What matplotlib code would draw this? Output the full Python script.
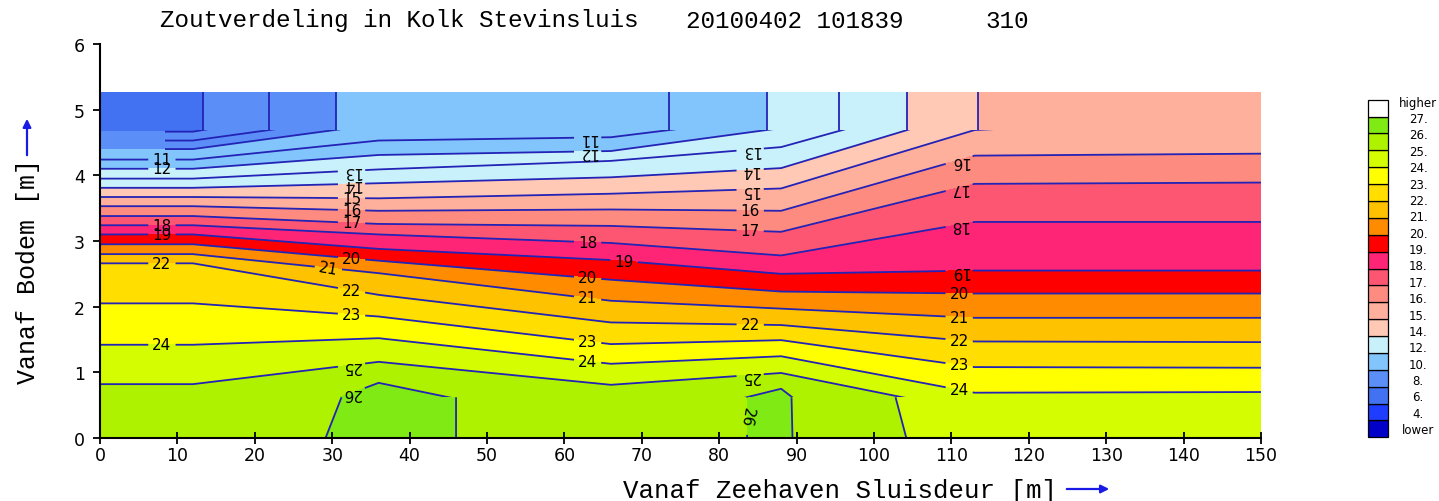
import numpy as np
import matplotlib
matplotlib.use("Agg")
import matplotlib.pyplot as plt
from matplotlib.patches import Polygon, Rectangle

plt.rcParams['font.family'] = ['DejaVu Sans']

# Measuring columns along the lock chamber [m from the sea-side gate]
col_x = [0, 12, 36, 66, 88, 113, 150]

# Salinity values whose heights are listed per column below
profile_levels = list(range(7, 28))

# Height [m above the floor] of each salinity value (7 ... 27) in each column
h_x0   = [4.80, 4.665, 4.53, 4.40, 4.24, 4.10, 3.95, 3.81, 3.67, 3.53, 3.38,
          3.24, 3.10, 2.95, 2.80, 2.66, 2.05, 1.42, 0.82, -0.22, -1.3]
h_x12  = [4.80, 4.665, 4.53, 4.40, 4.24, 4.10, 3.95, 3.81, 3.67, 3.53, 3.38,
          3.24, 3.10, 2.95, 2.80, 2.66, 2.05, 1.42, 0.82, -0.22, -1.3]
h_x36  = [5.40, 5.13, 4.92, 4.78, 4.53, 4.31, 4.09, 3.88, 3.65, 3.46, 3.26,
          3.10, 2.88, 2.70, 2.51, 2.18, 1.85, 1.52, 1.16, 0.84, -0.5]
h_x66  = [5.35, 5.15, 4.95, 4.76, 4.58, 4.37, 4.22, 3.97, 3.72, 3.48, 3.23,
          2.97, 2.71, 2.41, 2.09, 1.76, 1.43, 1.13, 0.81, 0.11, -0.8]
h_x88  = [5.80, 5.60, 5.40, 5.15, 4.90, 4.72, 4.43, 4.11, 3.80, 3.46, 3.14,
          2.78, 2.50, 2.23, 1.97, 1.72, 1.49, 1.245, 0.99, 0.75, -0.3]
h_x113 = [6.60, 6.40, 6.20, 6.00, 5.80, 5.50, 5.25, 5.00, 4.69, 4.30, 3.87,
          3.29, 2.55, 2.20, 1.83, 1.47, 1.08, 0.69, 0.40, -1.5, -2.5]
h_x150 = [7.00, 6.80, 6.60, 6.40, 6.20, 5.90, 5.60, 5.30, 4.90, 4.33, 3.89,
          3.29, 2.55, 2.20, 1.83, 1.46, 1.07, 0.70, 0.20, -0.5, -1.5]

# Highest measuring row and water surface, with the salinity in that row
top_row_y = 4.69
surface_y = 5.27
top_row = [7.85, 7.85, 10.65, 10.40, 12.15, 14.995, 15.40]

# Lowest measuring row and the floor, with their salinity
floor_layer_y = 0.62
floor_layer = [25.2, 25.2, 26.2, 25.6, 26.1, 24.24, 24.16]
floor_row = [25.5, 25.5, 26.2, 25.6, 26.1, 24.4, 24.4]

# Colour classes
fill_levels = [4, 6, 8, 10, 12, 14, 15, 16, 17, 18, 19, 20, 21, 22, 23, 24, 25, 26, 27]
band_colors = ['#0000c8', '#1f3dff', '#4272f2', '#5b8ef7', '#82c4fc', '#c9f1fc',
               '#ffc9b6', '#ffb09d', '#fe8b80', '#fd5673', '#fe2476', '#fe0000',
               '#ff8c00', '#ffc200', '#ffde00', '#ffff00', '#d3fd00', '#aef200',
               '#80ea14', '#ffffff']
cb_labels = ['lower'] + ['%d.' % v for v in fill_levels] + ['higher']

line_levels = list(range(8, 27))
line_color = '#2323b5'

# (x position, level, text rotation) of the contour labels
label_spots = [
    (8, 11, 0), (8, 12, 0), (8, 18, 0), (8, 19, 0), (8, 22, 0), (8, 24, 0),
    (32.5, 13, 180), (32.5, 14, 180), (32.5, 15, 0), (32.5, 16, 0), (32.5, 17, 0),
    (32.5, 20, 0), (29.5, 21, -10), (32.5, 22, 0), (32.5, 23, 0),
    (32.5, 25, 180), (32.5, 26, 180),
    (63, 11, 180), (63, 12, 180), (63, 18, 0), (67.7, 19, 0), (63, 20, 0),
    (63, 21, 0), (63, 23, 0), (63, 24, 0),
    (84, 13, 180), (84, 14, 180), (84, 15, 180), (84, 16, 0), (84, 17, 0),
    (84, 22, 0), (84, 25, 180),
    (111, 16, 180), (111, 17, 180), (111, 18, 180), (111, 19, 180), (111, 20, 0),
    (111, 21, 0), (111, 22, 0), (111, 23, 0), (111, 24, 0),
]

heights = np.array([h_x0, h_x12, h_x36, h_x66, h_x88, h_x113, h_x150]).T
ncol = len(col_x)

fig = plt.figure(figsize=(14.39, 5.02), dpi=100)
ax = fig.add_axes([100 / 1439, 63 / 502, 1161 / 1439, 394 / 502])

# Interior: rows follow the salinity values, columns the measuring positions
X = np.tile(np.array(col_x, float), (len(profile_levels), 1))
Z = np.tile(np.array(profile_levels, float)[:, None], (1, ncol))
cf = ax.contourf(X, heights, Z, levels=fill_levels, colors=band_colors, extend='both')
cl = ax.contour(X, heights, Z, levels=line_levels, colors=line_color, linewidths=1.3)
fill_clip = Rectangle((0, floor_layer_y), 150, top_row_y - floor_layer_y,
                      transform=ax.transData)
cf.set_clip_path(fill_clip)
# isolines of the upper-left corner are only drawn from the first sensor on
line_clip = Polygon([(0, floor_layer_y), (150, floor_layer_y), (150, top_row_y),
                     (8.4, top_row_y), (8.4, 4.32), (0, 4.32)], closed=True,
                    transform=ax.transData)
cl.set_clip_path(line_clip)

# Layer above the highest row
Xs = np.array([col_x, col_x], float)
Ys = np.array([[top_row_y] * ncol, [surface_y] * ncol])
Zs = np.array([top_row, top_row])
ax.contourf(Xs, Ys, Zs, levels=fill_levels, colors=band_colors, extend='both')
ax.contour(Xs, Ys, Zs, levels=line_levels, colors=line_color, linewidths=1.3)

# Layer below the lowest row
Yb = np.array([[0.0] * ncol, [floor_layer_y] * ncol])
Zb = np.array([floor_row, floor_layer])
ax.contourf(Xs, Yb, Zb, levels=fill_levels, colors=band_colors, extend='both')
clb = ax.contour(Xs, Yb, Zb, levels=line_levels, colors=line_color, linewidths=1.3)

# Contour labels
pos = [(x, float(np.interp(x, col_x, heights[profile_levels.index(lv)])))
       for x, lv, r in label_spots]
texts = ax.clabel(cl, manual=pos, inline=True, fmt='%d', fontsize=11,
                  inline_spacing=4, colors='black')
for t, (x, lv, r) in zip(texts, label_spots):
    t.set_transform_rotates_text(False)
    t.set_rotation(r)
tb = ax.clabel(clb, manual=[(84.0, 0.33)], inline=True, fmt='%d', fontsize=11,
               inline_spacing=2, colors='black')
for t in tb:
    t.set_transform_rotates_text(False)
    t.set_rotation(-100)

ax.set_xlim(0, 150)
ax.set_ylim(0, 6)
ax.set_xticks(range(0, 151, 10))
ax.set_yticks(range(0, 7))
for s in ['top', 'right']:
    ax.spines[s].set_visible(False)
for s in ['left', 'bottom']:
    ax.spines[s].set_linewidth(1.5)
ax.tick_params(axis='x', direction='inout', length=8, width=1.3, labelsize=12.5, pad=2)
ax.tick_params(axis='y', direction='out', length=5, width=1.3, labelsize=12.5, pad=6)

# Title
ty = 1 - 21 / 502
fig.text(160 / 1439, ty, 'Zoutverdeling in Kolk Stevinsluis', family='Liberation Mono',
         fontsize=17.5, ha='left', va='center')
fig.text(686 / 1439, ty, '20100402 101839', family='Liberation Mono',
         fontsize=17.5, ha='left', va='center')
fig.text(985 / 1439, ty, '310', family='Liberation Mono',
         fontsize=17.5, ha='left', va='center')

# Axis titles with arrows
fig.text(623 / 1439, 11 / 502, 'Vanaf Zeehaven Sluisdeur [m]', family='Liberation Mono',
         fontsize=18.5, ha='left', va='center')
ax.annotate('', xy=(1112, 12), xytext=(1064, 12), xycoords='figure pixels',
            textcoords='figure pixels', annotation_clip=False,
            arrowprops=dict(arrowstyle='-|>', color='#1a1ae6', lw=1.6, mutation_scale=12))
fig.text(28 / 1439, (502 - 272) / 502, 'Vanaf Bodem [m]', family='Liberation Mono',
         fontsize=18, rotation=90, ha='center', va='center')
ax.annotate('', xy=(27, 385), xytext=(27, 343), xycoords='figure pixels',
            textcoords='figure pixels', annotation_clip=False,
            arrowprops=dict(arrowstyle='-|>', color='#1a1ae6', lw=1.6, mutation_scale=12))

# Colour legend
cax = fig.add_axes([1368 / 1439, (502 - 438.3) / 502, 20 / 1439, 337.6 / 502])
cax.set_xlim(0, 1)
cax.set_ylim(0, len(band_colors))
cax.axis('off')
bars = cax.bar([0.5] * len(band_colors), [1] * len(band_colors),
               bottom=list(range(len(band_colors))), width=1, color=band_colors,
               edgecolor='black', linewidth=0.9)
for b in bars:
    b.set_clip_on(False)
for k, lab in enumerate(cb_labels):
    cax.text(2.5, 0.45 + 0.97 * k, lab, ha='center', va='center', fontsize=8.5,
             clip_on=False)

fig.savefig('out.png', dpi=100)
